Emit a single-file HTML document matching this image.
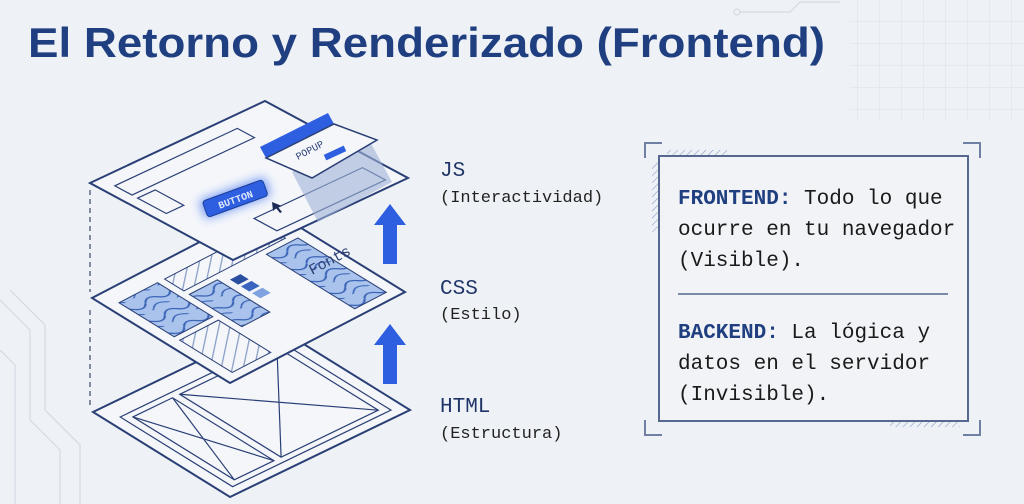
<!DOCTYPE html>
<html><head><meta charset="utf-8"><style>
html,body{margin:0;padding:0;background:#eef1f5;}
svg{display:block}
.mono{font-family:"Liberation Mono","DejaVu Sans Mono",monospace;}
</style></head><body>
<svg width="1024" height="504" viewBox="0 0 1024 504" xmlns="http://www.w3.org/2000/svg">
<defs>
<pattern id="grid" width="22" height="22" patternUnits="userSpaceOnUse"><path d="M22 0V22M0 22H22" fill="none" stroke="#d6dce6" stroke-width="1"/></pattern>
<pattern id="hatch" width="5" height="5" patternUnits="userSpaceOnUse" patternTransform="rotate(45)"><line x1="0" y1="0" x2="0" y2="5" stroke="#8aa0c8" stroke-width="1.2"/></pattern>
<pattern id="wave" width="14" height="14" patternUnits="userSpaceOnUse"><rect width="14" height="14" fill="#a9c3ec"/><path d="M0 7 Q3.5 2 7 7 T14 7" fill="none" stroke="#3b64b8" stroke-width="1"/><path d="M0 13 Q3.5 9 7 13 T14 13" fill="none" stroke="#3b64b8" stroke-width="0.8"/></pattern>
<filter id="glow" x="-50%" y="-50%" width="200%" height="200%"><feGaussianBlur stdDeviation="5"/></filter>
</defs>
<rect width="1024" height="504" fill="#eef1f5"/>
<rect x="850" y="0" width="174" height="120" fill="url(#grid)" opacity="0.8"/>
<g stroke="#d4dae4" fill="none" stroke-width="1.2">
<path d="M740 12H790L800 2H840"/><circle cx="737" cy="12" r="3"/>
<path d="M0 300L30 330V420L60 450V504"/><path d="M10 290L45 325V410L80 445V504"/><path d="M0 350L15 365V504"/>
</g>
<text x="28" y="57" textLength="797" lengthAdjust="spacingAndGlyphs" font-family="Liberation Sans, sans-serif" font-weight="bold" font-size="42" fill="#1f3f80">El Retorno y Renderizado (Frontend)</text>

<g stroke="#3a4a6a" stroke-width="1.2" fill="none" stroke-dasharray="5 4">
<line x1="90" y1="190" x2="90" y2="292"/><line x1="90" y1="310" x2="90" y2="405"/>
</g>

<!-- bottom layer -->
<g transform="matrix(1.8,-0.87,1.37,0.85,93,412)" fill="none" stroke="#2a3f75">
<rect x="0" y="0" width="100" height="100" fill="#f4f6fa" stroke-width="2" vector-effect="non-scaling-stroke"/>
<rect x="6" y="12" width="88" height="82" vector-effect="non-scaling-stroke" stroke-width="1.2"/>
<rect x="10" y="16" width="22" height="74" vector-effect="non-scaling-stroke" stroke-width="1.2"/>
<rect x="36" y="16" width="54" height="74" vector-effect="non-scaling-stroke" stroke-width="1.2"/>
<path d="M36 16L90 90M90 16L36 90M10 16L32 90M32 16L10 90" vector-effect="non-scaling-stroke" stroke-width="1.2"/>
</g>
<!-- middle layer -->
<g transform="matrix(1.75,-0.91,1.38,0.85,92,298)" stroke="#2a3f75" fill="none">
<rect x="0" y="0" width="100" height="100" fill="#f4f6fa" stroke-width="2" vector-effect="non-scaling-stroke"/>
<rect x="6" y="12" width="22" height="40" fill="url(#wave)" stroke-width="1" vector-effect="non-scaling-stroke"/>
<rect x="6" y="56" width="22" height="38" fill="url(#hatch)" stroke-width="1" vector-effect="non-scaling-stroke"/>
<rect x="32" y="12" width="58" height="14" fill="url(#hatch)" stroke-width="1" vector-effect="non-scaling-stroke"/>
<rect x="32" y="30" width="16" height="38" fill="url(#wave)" stroke-width="1" vector-effect="non-scaling-stroke"/>
<rect x="76" y="30" width="18" height="64" fill="url(#wave)" stroke-width="1" vector-effect="non-scaling-stroke"/>
<rect x="52" y="34" width="6" height="6" fill="#2b4fa0" stroke="none"/>
<rect x="52" y="42" width="6" height="6" fill="#3b66c0" stroke="none"/>
<rect x="52" y="50" width="6" height="6" fill="#7fa3e0" stroke="none"/>
</g>
<text x="312" y="275" transform="rotate(-28 312 275)" class="mono" font-size="15" fill="#2a3f75">Fonts</text>
<!-- top layer -->
<g transform="matrix(1.75,-0.82,1.43,0.77,90,183)" stroke="#2a3f75" fill="none">
<rect x="0" y="0" width="100" height="100" fill="#f4f6fa" stroke-width="2" vector-effect="non-scaling-stroke"/>
<rect x="6" y="10" width="70" height="12" stroke-width="1.2" vector-effect="non-scaling-stroke"/>
<rect x="6" y="26" width="10" height="20" stroke-width="1.2" vector-effect="non-scaling-stroke"/>
<rect x="30" y="78" width="62" height="16" stroke-width="1.2" vector-effect="non-scaling-stroke"/>
</g>
<rect x="200" y="188" width="70" height="20" rx="4" transform="rotate(-20 235 198)" fill="#3b6ef0" filter="url(#glow)" opacity="0.7"/>
<rect x="203" y="190" width="64" height="17" rx="3" transform="rotate(-20 235 198)" fill="#2d5fe0" stroke="#1b3e9a"/>
<text x="235" y="203" text-anchor="middle" transform="rotate(-20 235 198)" class="mono" font-size="10" font-weight="bold" fill="#dfe8ff">BUTTON</text>
<path d="M272 202l10 4-4 1 4 5-2 1-4-5-3 3z" fill="#1b2a55"/>
<!-- popup -->
<polygon points="292,172 368,138 392,182 318,222" fill="#9fb3d6" opacity="0.6"/>
<polygon points="260,147 328,113 334,124 266,158" fill="#2d5fe0"/>
<polygon points="266,158 334,124 377,140 312,178" fill="#f4f6fa" stroke="#2a3f75" stroke-width="1.5"/>
<text x="298" y="160" transform="rotate(-28 298 160)" class="mono" font-size="10" fill="#2a3f75">POPUP</text>
<rect x="324" y="150" width="22" height="6" transform="rotate(-25 335 153)" fill="#2d5fe0"/>
<!-- arrows -->
<polygon points="390,204 406,225 397,225 397,264 383,264 383,225 374,225" fill="#2d5fe0"/>
<polygon points="390,324 406,345 397,345 397,384 383,384 383,345 374,345" fill="#2d5fe0"/>

<g class="mono" fill="#1f3568">
<text x="440" y="176" font-size="21">JS</text>
<text x="440" y="202" font-size="17" fill="#222">(Interactividad)</text>
<text x="440" y="294" font-size="21">CSS</text>
<text x="440" y="319" font-size="17" fill="#222">(Estilo)</text>
<text x="440" y="412" font-size="21">HTML</text>
<text x="440" y="438" font-size="17" fill="#222">(Estructura)</text>
</g>

<g fill="none" stroke="#6f80a3" stroke-width="2">
<path d="M645 158V143H662M963 143H980V158M645 420V435H662M963 435H980V420"/>
</g>
<rect x="659" y="156" width="309" height="265" fill="#f1f3f7" stroke="#56688f" stroke-width="2"/>
<rect x="667" y="150" width="60" height="5" fill="url(#hatch)"/>
<rect x="652" y="162" width="6" height="70" fill="url(#hatch)"/>
<rect x="890" y="422" width="70" height="5" fill="url(#hatch)"/>
<line x1="678" y1="294" x2="948" y2="294" stroke="#56688f" stroke-width="1.5"/>
<g class="mono" font-size="21" fill="#1a1a1a">
<text x="678" y="204"><tspan fill="#1f3f80" font-weight="bold">FRONTEND:</tspan> Todo lo que</text>
<text x="678" y="235">ocurre en tu navegador</text>
<text x="678" y="266">(Visible).</text>
<text x="678" y="338"><tspan fill="#1f3f80" font-weight="bold">BACKEND:</tspan> La lógica y</text>
<text x="678" y="369">datos en el servidor</text>
<text x="678" y="400">(Invisible).</text>
</g>
</svg>
</body></html>
